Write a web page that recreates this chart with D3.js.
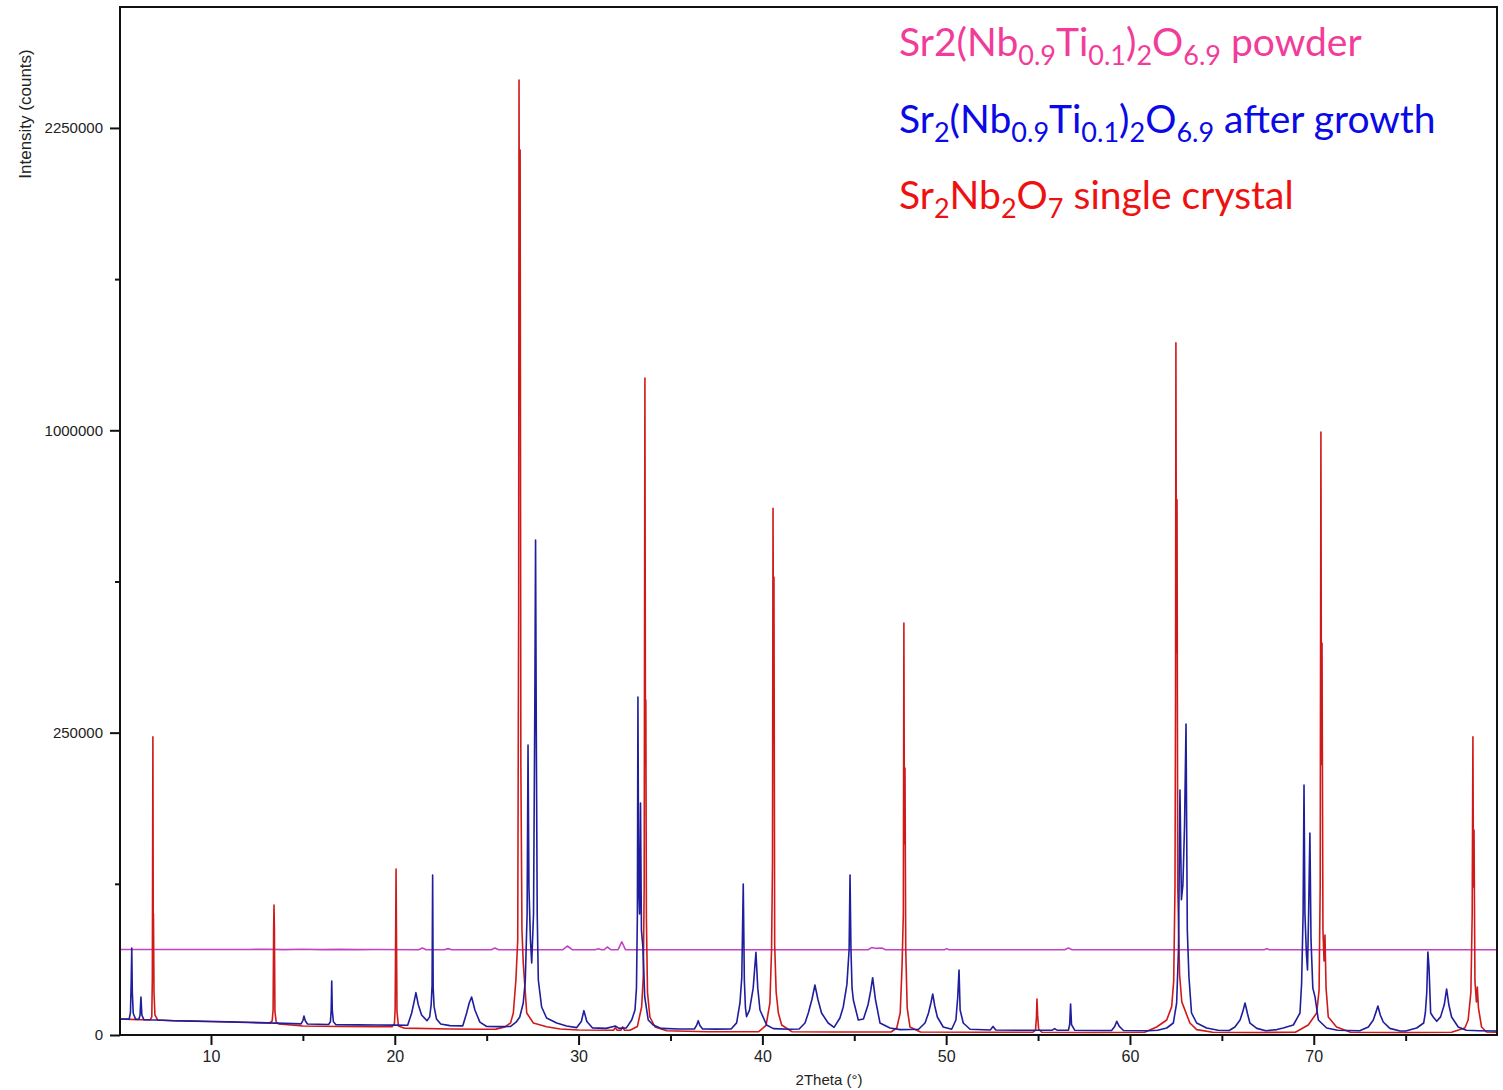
<!DOCTYPE html>
<html><head><meta charset="utf-8">
<script src="https://cdn.jsdelivr.net/npm/d3@7"></script>
<style>body{margin:0;background:#fff} svg{display:block} text{white-space:pre}</style>
</head><body>
<svg id="chart" width="1503" height="1090"></svg>
<script>
// ---- data (2theta in degrees, intensity in counts) ----
const xTicks = [10, 20, 30, 40, 50, 60, 70];
const xMinorTicks = [15, 25, 35, 45, 55, 65, 75];
const yTicks = [0, 250000, 1000000, 2250000];
const yMinorTicks = [62500, 562500, 1562500];
const xTitle = "2Theta (°)";
const yTitle = "Intensity (counts)";

const powder = [
[5.05,20000],[12.0,20000],[13,20100],[14,19950],[15,20100],[16,19950],[17,20050],[18,19950],[19.0,20000],
[21.3,19900],[21.5,20700],[21.7,19900],[22.7,19900],[22.9,20400],[23.1,19900],[25.25,19900],[25.45,20700],[25.65,19900],
[29.15,19900],[29.39,21660],[29.65,19900],[30.9,19900],[31.08,20300],[31.25,19900],[31.4,19900],[31.56,21180],[31.75,19900],
[32.15,19900],[32.35,23800],[32.55,19900],[45.75,19900],[45.95,20900],[46.2,20500],[46.5,20700],[46.7,19900],
[49.9,19900],[50.03,20400],[50.15,19900],[56.45,19900],[56.65,20700],[56.85,19900],[67.3,19900],[67.44,20400],[67.6,19900],[79.97,19900]
];

const afterGrowth = [
[5.05,700],[5.55,690],[5.62,1400],[5.66,8000],[5.69,20700],[5.72,5000],[5.77,1300],[5.9,680],
[6.08,680],[6.14,1100],[6.19,3950],[6.24,1100],[6.35,640],
[7,620],[8,560],[9,530],[10,500],[11,470],[12,430],[13,400],[14,370],[14.9,340],
[15.0,560],[15.06,985],[15.13,560],[15.25,330],
[16.4,300],[16.5,480],[16.54,1700],[16.57,7970],[16.6,1700],[16.66,480],[16.8,290],
[18,280],[19,270],[20,265],[20.7,260],
[20.92,1320],[21.05,3000],[21.15,4900],[21.28,2500],[21.46,1100],[21.75,560],
[21.9,900],[21.98,2500],[22.03,6800],[22.06,70000],[22.09,6000],[22.14,2200],[22.27,700],[22.5,330],
[23,240],[23.7,230],[23.91,1324],[24.05,2800],[24.18,3950],[24.36,1709],[24.63,450],[25.0,200],
[25.6,190],[26.3,200],[26.6,450],[26.8,886],[26.99,2800],[27.1,8000],[27.2,40000],[27.25,230000],[27.3,60000],[27.38,25000],[27.45,14180],[27.55,40000],[27.62,300000],[27.66,670000],[27.7,250000],[27.75,40000],[27.81,8270],[27.99,2144],[28.26,790],[28.81,394],[29.35,221],
[29.9,150],[30.15,500],[30.29,1620],[30.45,500],[30.75,140],
[31.5,120],[32.0,220],[32.2,120],[32.6,140],
[32.89,615],[33.07,1709],[33.15,6000],[33.2,40000],[33.23,312500],[33.27,60000],[33.32,40000],[33.37,147200],[33.42,30000],[33.5,21000],[33.6,3950],[33.79,615],[34.06,273],[34.5,120],
[35.5,100],[36.3,100],[36.42,250],[36.51,560],[36.6,250],[36.75,100],[37.5,95],
[38.3,100],[38.6,400],[38.78,2800],[38.88,9000],[38.96,62300],[39.02,8000],[39.08,2000],[39.14,920],[39.3,1700],[39.5,6000],[39.65,18700],[39.75,6000],[39.87,1709],[40.23,273],[40.6,110],
[41.5,90],[42.0,100],[42.32,394],[42.5,1324],[42.7,3500],[42.86,6837],[43.02,3500],[43.22,1324],[43.58,394],[43.9,160],
[44.22,790],[44.4,2144],[44.6,7000],[44.72,20000],[44.77,70000],[44.82,20000],[44.88,6000],[44.95,3350],[45.22,615],[45.5,700],[45.75,2500],[45.9,5500],[46.0,8980],[46.15,3500],[46.4,394],[46.94,134],
[47.5,80],[48.5,90],[48.85,394],[49.04,1324],[49.17,2800],[49.27,4600],[49.38,2300],[49.52,886],[49.84,175],
[50.3,90],[50.53,615],[50.63,3950],[50.7,11550],[50.76,1709],[50.93,394],[51.3,90],
[52.4,70],[52.55,200],[52.7,70],[54,60],[55.75,60],[55.9,110],[56.05,60],
[56.65,60],[56.72,300],[56.77,2630],[56.82,300],[57.0,60],
[58.5,55],[59.0,55],[59.17,200],[59.28,513],[59.42,200],[59.65,55],
[61.0,50],[61.5,60],[62.0,134],[62.36,394],[62.54,2800],[62.64,20000],[62.72,164000],[62.8,50000],[62.88,61500],[62.97,120000],[63.05,264500],[63.12,30000],[63.21,9200],[63.35,1324],[63.63,394],[64.17,134],[64.8,60],
[65.4,55],[65.71,175],[65.99,615],[66.14,1500],[66.26,2800],[66.4,1200],[66.53,380],[66.9,120],[67.4,50],
[68.0,80],[68.34,134],[68.89,273],[69.25,1324],[69.34,7400],[69.42,40000],[69.47,171000],[69.52,40000],[69.6,18000],[69.66,11550],[69.72,40000],[69.79,111600],[69.85,25000],[69.95,6000],[70.07,3950],[70.25,615],[70.7,134],[71.3,60],
[72.5,50],[72.97,175],[73.24,615],[73.38,1400],[73.49,2300],[73.62,1100],[73.78,460],[74.14,120],[74.7,45],
[75.0,45],[75.6,134],[75.98,394],[76.07,1324],[76.15,5000],[76.21,18850],[76.27,12600],[76.36,1324],[76.5,886],[76.69,510],[76.9,900],[77.1,2500],[77.23,5790],[77.35,2500],[77.5,886],[77.86,175],[78.3,60],[79.0,50],[79.97,44]
];

const singleCrystal = [
[5.05,700],[6.0,650],[6.7,640],[6.78,900],[6.81,9000],[6.84,243000],[6.86,30000],[6.87,40000],[6.9,5000],[6.95,1100],[7.1,620],
[8,560],[10,500],[12,440],[13.2,400],[13.33,550],[13.38,1709],[13.41,31000],[13.43,46200],[13.45,31300],[13.48,1500],[13.55,450],[13.7,330],
[15,220],[17,200],[19,190],[19.85,190],[19.98,350],[20.02,1709],[20.05,31000],[20.07,75400],[20.09,31300],[20.12,1500],[20.2,220],[20.5,130],
[23,98],[25,90],[25.5,95],[26.0,180],[26.3,400],[26.45,1323],[26.59,8270],[26.69,24680],[26.74,500000],[26.76,2494000],[26.79,1200000],[26.82,2142000],[26.86,200000],[26.92,30000],[26.99,14180],[27.18,1324],[27.54,393],[28.26,188],[29,100],
[30,68],[31.9,60],[32.0,150],[32.1,60],[32.3,60],[32.4,180],[32.5,60],
[32.8,60],[33.2,200],[33.43,2144],[33.52,9000],[33.57,60000],[33.61,1180000],[33.64,200000],[33.66,307000],[33.69,38000],[33.75,5000],[33.88,886],[34.16,175],[34.8,50],
[37,30],[39.8,30],[40.2,250],[40.41,2800],[40.5,20000],[40.55,80000],[40.58,759000],[40.61,300000],[40.63,573600],[40.67,22000],[40.75,5000],[40.87,1324],[41.05,273],[41.6,30],
[44,25],[47.0,25],[47.31,134],[47.5,1324],[47.6,13000],[47.67,40000],[47.70,464000],[47.73,100000],[47.76,195000],[47.8,20000],[47.88,2000],[48.03,175],[48.6,25],
[52,20],[54.7,20],[54.86,60],[54.91,800],[54.94,3550],[54.98,1000],[55.03,100],[55.2,20],
[58,18],[60.8,20],[61.45,175],[62.0,615],[62.27,2200],[62.38,8000],[62.45,60000],[62.48,300000],[62.5,1310000],[62.53,400000],[62.56,783000],[62.6,60000],[62.7,10000],[62.82,3000],[63.26,394],[63.63,80],[64.5,20],
[67,18],[69.0,20],[69.7,273],[70.16,1324],[70.29,5500],[70.35,60000],[70.39,994000],[70.42,200000],[70.45,420000],[70.5,30000],[70.56,15000],[70.61,27350],[70.67,6000],[70.79,886],[71.24,175],[72.0,20],
[75,18],[77.5,20],[78.22,134],[78.4,615],[78.55,5000],[78.62,40000],[78.66,243000],[78.69,60000],[78.72,115000],[78.77,8000],[78.85,3000],[78.9,6300],[78.96,2000],[79.13,175],[79.4,25],[79.97,20]
];

// legend labels: [text, isSubscript]
const legendPowder = [["Sr2(Nb",0],["0.9",1],["Ti",0],["0.1",1],[")",0],["2",1],["O",0],["6.9",1],[" powder",0]];
const legendGrowth = [["Sr",0],["2",1],["(Nb",0],["0.9",1],["Ti",0],["0.1",1],[")",0],["2",1],["O",0],["6.9",1],[" after growth",0]];
const legendCrystal = [["Sr",0],["2",1],["Nb",0],["2",1],["O",0],["7",1],[" single crystal",0]];

// ---- layout ----
const L = 120, R = 1497, T = 7, B = 1035;
const svg = d3.select("#chart");
const x = d3.scaleLinear().domain([5.05, 79.97]).range([L, R]);
const y = d3.scaleSqrt().domain([0, 2890000]).range([B, T]);

svg.append("defs").append("clipPath").attr("id","clip")
  .append("rect").attr("x",L).attr("y",T).attr("width",R-L).attr("height",B-T);

const line = d3.line().x(d => x(d[0])).y(d => y(d[1]));
const plot = svg.append("g").attr("clip-path","url(#clip)");
const seriesStyle = [
  {data: powder, color: "#c443c4", w: 1.6},
  {data: singleCrystal, color: "#d01a1a", w: 1.6},
  {data: afterGrowth, color: "#1e1e9e", w: 1.6}
];
seriesStyle.forEach(s => {
  plot.append("path").datum(s.data).attr("d", line)
    .attr("fill","none").attr("stroke", s.color).attr("stroke-width", s.w)
    .attr("stroke-linejoin","round");
});

// axes
const tickFont = "'Liberation Sans', Arial, sans-serif";
const gx = svg.append("g").attr("transform",`translate(0,${B})`)
  .call(d3.axisBottom(x).tickValues(xTicks).tickSize(10).tickPadding(6).tickFormat(d3.format("d")));
svg.append("g").attr("transform",`translate(0,${B})`)
  .call(d3.axisBottom(x).tickValues(xMinorTicks).tickSize(6).tickFormat(""))
  .select(".domain").remove();
const gy = svg.append("g").attr("transform",`translate(${L},0)`)
  .call(d3.axisLeft(y).tickValues(yTicks).tickSize(10).tickPadding(7).tickFormat(d3.format("d")));
svg.append("g").attr("transform",`translate(${L},0)`)
  .call(d3.axisLeft(y).tickValues(yMinorTicks).tickSize(5).tickFormat(""))
  .select(".domain").remove();
svg.selectAll(".domain").remove();
svg.selectAll(".tick line").attr("stroke","#111").attr("stroke-width",2);
gx.selectAll("text").attr("font-family",tickFont).attr("font-size",16).attr("fill","#222");
gy.selectAll("text").attr("font-family",tickFont).attr("font-size",15).attr("fill","#222");

// frame
svg.append("rect").attr("x",L).attr("y",T).attr("width",R-L).attr("height",B-T)
  .attr("fill","none").attr("stroke","#111").attr("stroke-width",2);

// titles
svg.append("text").attr("x",829).attr("y",1085).attr("text-anchor","middle")
  .attr("font-family",tickFont).attr("font-size",15).attr("fill","#222").text(xTitle);
svg.append("text").attr("transform","translate(31,114) rotate(-90)").attr("text-anchor","middle")
  .attr("font-family",tickFont).attr("font-size",17).attr("fill","#222").text(yTitle);

// legend
const legendFont = "Lato, 'Open Sans', sans-serif";
const legendItems = [
  {parts: legendPowder, color: "#f23c9a", y: 56},
  {parts: legendGrowth, color: "#0a0ae6", y: 133},
  {parts: legendCrystal, color: "#ee1111", y: 209}
];
legendItems.forEach(it => {
  const t = svg.append("text").attr("x",899).attr("y",it.y)
    .attr("font-family",legendFont).attr("font-size",39).attr("fill",it.color);
  let shift = 0;
  it.parts.forEach(p => {
    const target = p[1] ? 9 : 0;
    t.append("tspan").attr("dy", target - shift).attr("font-size", p[1] ? 27 : 39).text(p[0]);
    shift = target;
  });
});
</script>
</body></html>
